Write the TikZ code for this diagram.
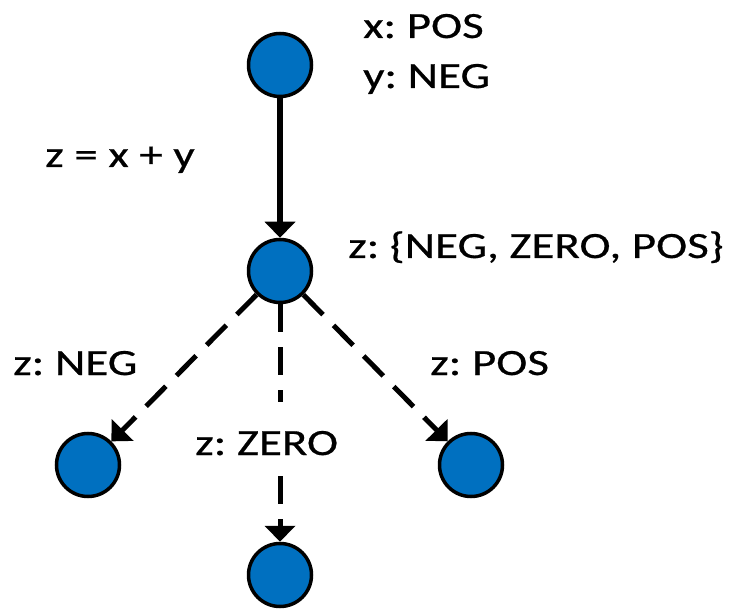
\documentclass[tikz,border=0pt]{standalone}
\usepackage{fontspec}
\setmainfont{Carlito}
\newfontfamily\lblfont{Carlito}[FakeBold=0.5]
\usetikzlibrary{arrows.meta}
\definecolor{dotblue}{RGB}{0,112,192}
% labels are set a little wider than the font's natural width
\newcommand{\wtext}[1]{\scalebox{1.27}[1]{\frenchspacing #1}}

\begin{document}
\begin{tikzpicture}[x=1pt,y=-1pt,
  state/.style={circle,draw=black,fill=dotblue,line width=3.5pt,minimum size=63pt,inner sep=0pt},
  lbl/.style={anchor=base west,inner sep=0pt,font=\lblfont\fontsize{37}{44}\selectfont},
  flow/.style={line width=5.5pt,-{Triangle[length=16pt,width=30pt]}},
  branch/.style={flow,line width=5pt,dash pattern=on 28pt off 15pt}]
\useasboundingbox (0,0) rectangle (741,609);

% states
\node[state] (t) at (280,65) {};
\node[state] (m) at (280,271) {};
\node[state] (l) at (88,465) {};
\node[state] (b) at (280,575) {};
\node[state] (r) at (471,465) {};

% transitions
\draw[flow] (t) -- (m);
\draw[branch] (m) -- (l);
\draw[branch] (m) -- (b);
\draw[branch] (m) -- (r);

% annotations
\node[lbl] (tx) at (363,38) {\wtext{x: POS}};
\node[lbl] (ty) at (363,88) {\wtext{y: NEG}};
\node[lbl] (eq) at (45,167) {\wtext{z = x + y}};
\node[lbl] (mz) at (348,258) {\wtext{z: \{NEG, ZERO, POS\}}};
\node[lbl] (ln) at (13,375) {\wtext{z: NEG}};
\node[lbl,fill=white,text height=53pt,text depth=15pt] (bz) at (195,455) {\wtext{z: ZERO}};
\node[lbl] (rp) at (430,375) {\wtext{z: POS}};
\end{tikzpicture}
\end{document}
